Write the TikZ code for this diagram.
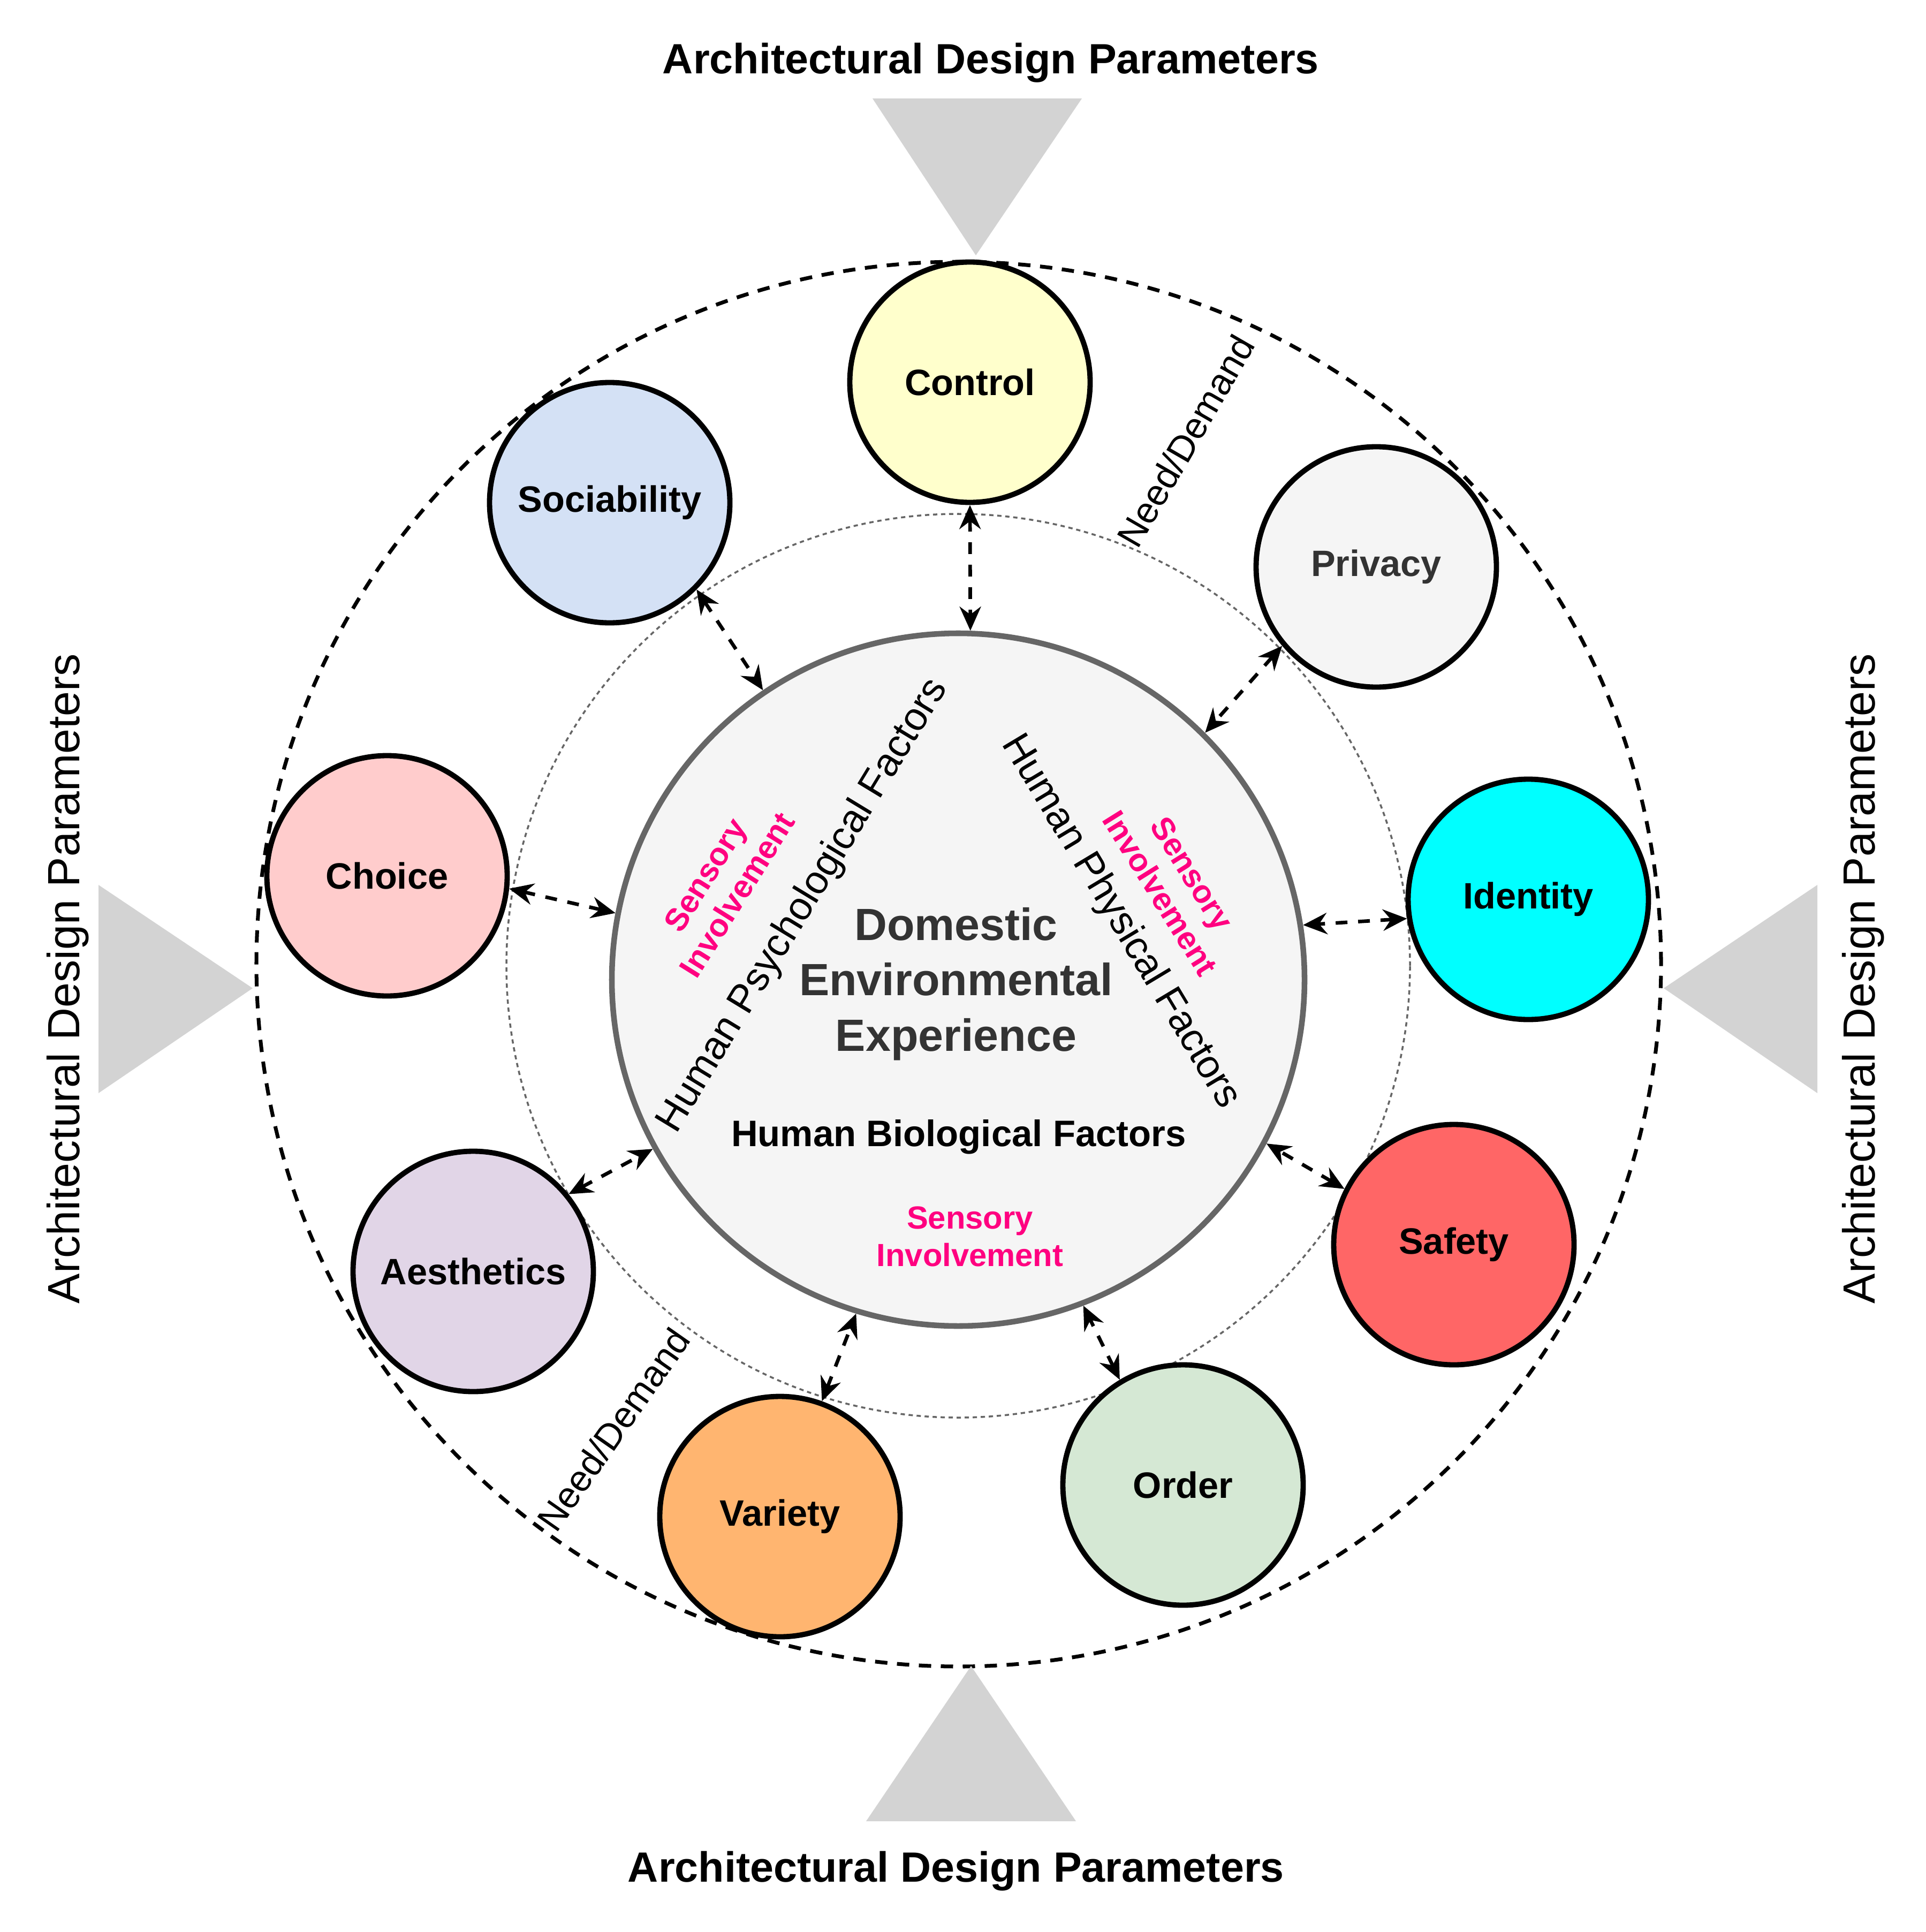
\documentclass[tikz,border=0pt]{standalone}
\usepackage{fontspec}
\setmainfont{Liberation Sans}
\setsansfont{Liberation Sans}
\usetikzlibrary{arrows.meta}

\definecolor{adpgray}{HTML}{D3D3D3}
\definecolor{coreline}{HTML}{666666}
\definecolor{corefill}{HTML}{F5F5F5}
\definecolor{sensepink}{HTML}{FF0080}
\definecolor{darktext}{HTML}{333333}
\definecolor{ctrlfill}{HTML}{FFFFCC}
\definecolor{socfill}{HTML}{D4E1F5}
\definecolor{privfill}{HTML}{F5F5F5}
\definecolor{identfill}{HTML}{00FFFF}
\definecolor{choicefill}{HTML}{FFCCCC}
\definecolor{aesthfill}{HTML}{E1D5E7}
\definecolor{safefill}{HTML}{FF6666}
\definecolor{orderfill}{HTML}{D5E8D4}
\definecolor{varfill}{HTML}{FFB570}

\begin{document}
\begin{tikzpicture}[
    font=\sffamily,
    factor/.style={
        circle,
        draw=black,
        line width=2.8pt,
        minimum size=4.49cm,
        inner sep=0pt,
        align=center,
        font=\bfseries\fontsize{19.5}{23}\selectfont
    },
    core/.style={
        circle,
        draw=coreline,
        fill=corefill,
        line width=3pt,
        minimum size=12.94cm,
        inner sep=0pt
    },
    link/.style={
        {Stealth[length=4.5mm, width=4mm, inset=1.5mm]}-{Stealth[length=4.5mm, width=4mm, inset=1.5mm]},
        line width=1.9pt,
        dash pattern=on 2.2mm off 2mm
    },
    pointer/.style={fill=adpgray, draw=none},
    param top/.style={font=\bfseries\fontsize{22.5}{26}\selectfont},
    param side/.style={font=\fontsize{24}{28}\selectfont, rotate=90},
    human/.style={font=\fontsize{21}{25}\selectfont},
    sense/.style={
        text=sensepink,
        align=center,
        font=\bfseries\fontsize{17}{20}\selectfont
    },
    need/.style={font=\fontsize{19.5}{23}\selectfont}
]
    \useasboundingbox (0,0) rectangle (35.98,-36.09);

    % --- OUTER RINGS ---
    \draw[line width=2pt, dash pattern=on 2.3mm off 1.8mm] (17.91,-18.01) circle[radius=13.12];
    \draw[coreline, line width=1pt, dash pattern=on 0.8mm off 0.7mm] (17.90,-18.04) circle[radius=8.44];

    % --- DESIGN PARAMETER POINTERS ---
    \fill[pointer] (16.30,-1.84) -- (20.21,-1.84) -- (18.23,-4.77) -- cycle;
    \fill[pointer] (16.18,-34.02) -- (20.10,-34.02) -- (18.14,-31.12) -- cycle;
    \fill[pointer] (1.84,-16.53) -- (1.84,-20.42) -- (4.72,-18.46) -- cycle;
    \fill[pointer] (33.95,-16.53) -- (33.95,-20.42) -- (31.08,-18.46) -- cycle;

    \node[param top] (adptop) at (18.51,-1.17) {Architectural Design Parameters};
    \node[param top] (adpbottom) at (17.86,-34.95) {Architectural Design Parameters};
    \node[param side] (adpleft) at (1.27,-18.28) {Architectural Design Parameters};
    \node[param side] (adpright) at (34.81,-18.28) {Architectural Design Parameters};

    % --- CORE ---
    \node[core] (core) at (17.90,-18.30) {};
    \node[text=darktext, align=center, font=\bfseries\fontsize{24}{29.5}\selectfont] (experience) at (17.86,-18.38)
        {Domestic\\Environmental\\Experience};
    \node[human, rotate=58.7] (psych) at (15.01,-16.92) {Human Psychological Factors};
    \node[human, rotate=-59] (phys) at (20.93,-17.22) {Human Physical Factors};
    \node[font=\bfseries\fontsize{19.6}{23}\selectfont] (bio) at (17.91,-21.24) {Human Biological Factors};

    \node[sense, rotate=58] (senseleft) at (13.47,-16.53) {Sensory\\Involvement};
    \node[sense, rotate=-58] (senseright) at (21.97,-16.50) {Sensory\\Involvement};
    \node[sense] (sensebottom) at (18.12,-23.10) {Sensory\\Involvement};

    % --- FACTORS ---
    \node[factor, fill=ctrlfill] (control) at (18.12,-7.14) {Control};
    \node[factor, fill=socfill] (sociab) at (11.39,-9.39) {Sociability};
    \node[factor, fill=privfill, text=darktext] (privacy) at (25.71,-10.59) {Privacy};
    \node[factor, fill=identfill] (identity) at (28.55,-16.80) {Identity};
    \node[factor, fill=choicefill] (choice) at (7.23,-16.36) {Choice};
    \node[factor, fill=aesthfill] (aesth) at (8.84,-23.75) {Aesthetics};
    \node[factor, fill=safefill] (safety) at (27.16,-23.25) {Safety};
    \node[factor, fill=orderfill] (order) at (22.10,-27.74) {Order};
    \node[factor, fill=varfill] (variety) at (14.57,-28.33) {Variety};

    \node[need, rotate=60] (needtop) at (22.15,-8.24) {Need/Demand};
    \node[need, rotate=55] (needbottom) at (11.46,-26.70) {Need/Demand};

    % --- LINKS ---
    \draw[link] (control.270) -- (core.88);
    \draw[link] (sociab.-45) -- (core.124);
    \draw[link] (privacy.220) -- (core.45);
    \draw[link] (identity.189) -- (core.9);
    \draw[link] (choice.-6) -- (core.169);
    \draw[link] (aesth.39) -- (core.209);
    \draw[link] (safety.153) -- (core.-28);
    \draw[link] (order.121) -- (core.-69);
    \draw[link] (variety.70) -- (core.253);

\end{tikzpicture}
\end{document}
